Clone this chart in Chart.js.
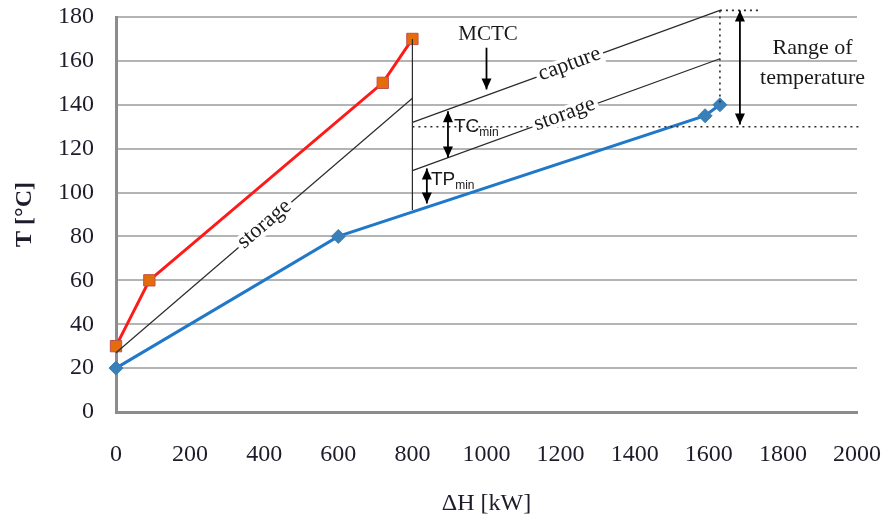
<!DOCTYPE html>
<html>
<head>
<meta charset="utf-8">
<script src="https://cdn.jsdelivr.net/npm/chart.js@4.4.0/dist/chart.umd.min.js"></script>
<style>
  html, body { margin: 0; padding: 0; background: #fff; }
  #wrap { width: 890px; height: 518px; }
</style>
</head>
<body>
<div id="wrap"><canvas id="tc"></canvas></div>
<script>
// hot composite curve (red, squares)
var hotH = [0, 90, 720, 800]
var hotT = [30, 60, 150, 170]
// cold composite curve (blue, diamonds)
var coldH = [0, 600, 1590, 1630]
var coldT = [20, 80, 135, 140]
// storage line under the hot curve
var store1H = [0, 800]
var store1T = [27, 143]
// vertical drop at 800 kW
var dropH = [800, 800]
var dropT = [170, 92]
// MCTC capture and storage lines
var captH = [800, 1630]
var captT = [132, 183]
var store2H = [800, 1630]
var store2T = [110, 161]
// dotted guides
var dotLowH = [800, 2010]
var dotLowT = [130, 130]
var dotTopH = [1630, 1740]
var dotTopT = [183, 183]
var dotVertH = [1630, 1630]
var dotVertT = [183, 140]

var xTicks = [0, 200, 400, 600, 800, 1000, 1200, 1400, 1600, 1800, 2000]
var yTicks = [0, 20, 40, 60, 80, 100, 120, 140, 160, 180]

function pts(xs, ys) {
    return xs.map((v, i) => ({ x: v, y: ys[i] }))
}

function thin(xs, ys, dash) {
    return {
        data: pts(xs, ys),
        showLine: true,
        borderColor: '#2b2b2b',
        borderWidth: dash ? 1.6 : 1.2,
        borderDash: dash ? [2, 4] : [],
        pointRadius: 0,
        clip: false
    }
}

var serif = 'Liberation Serif'

// text and arrows drawn on top, placed in data units through the scales
var notes = {
    id: 'notes',
    afterDatasetsDraw(chart) {
        var ctx = chart.ctx
        var sx = chart.scales.x, sy = chart.scales.y
        var px = v => sx.getPixelForValue(v)
        var py = v => sy.getPixelForValue(v)
        ctx.save()

        function onLine(text, xs, ys, at) {
            var x0 = px(xs[0]), y0 = py(ys[0]), x1 = px(xs[1]), y1 = py(ys[1])
            var t = (at - xs[0]) / (xs[1] - xs[0])
            var cx = x0 + (x1 - x0) * t, cy = y0 + (y1 - y0) * t
            ctx.save()
            ctx.translate(cx, cy)
            ctx.rotate(Math.atan2(y1 - y0, x1 - x0))
            ctx.font = '22px "' + serif + '"'
            var w = ctx.measureText(text).width
            ctx.fillStyle = '#fff'
            ctx.fillRect(-w / 2 - 3, -9, w + 6, 18)
            ctx.fillStyle = '#1a1a1a'
            ctx.textAlign = 'center'
            ctx.textBaseline = 'middle'
            ctx.fillText(text, 0, -1)
            ctx.restore()
        }

        function head(x, y, dir) {
            ctx.beginPath()
            ctx.moveTo(x, y)
            ctx.lineTo(x - 5, y - dir * 11)
            ctx.lineTo(x + 5, y - dir * 11)
            ctx.closePath()
            ctx.fill()
        }

        function arrow(xv, fromT, toT, both) {
            var x = px(xv), ya = py(fromT), yb = py(toT)
            ctx.strokeStyle = '#000'
            ctx.fillStyle = '#000'
            ctx.lineWidth = 1.8
            ctx.beginPath()
            ctx.moveTo(x, ya)
            ctx.lineTo(x, yb)
            ctx.stroke()
            head(x, yb, yb > ya ? 1 : -1)
            if (both) head(x, ya, ya > yb ? 1 : -1)
        }

        onLine('storage', store1H, store1T, 402)
        onLine('capture', captH, captT, 1225)
        onLine('storage', store2H, store2T, 1212)

        arrow(1000, 166, 147, false)
        arrow(1684, 183, 131, true)
        arrow(896, 137, 116, true)
        arrow(839, 111, 95, true)

        ctx.fillStyle = '#1a1a1a'
        ctx.textAlign = 'center'
        ctx.textBaseline = 'middle'
        ctx.font = '21px "' + serif + '"'
        ctx.fillText('MCTC', px(1004), py(172))
        ctx.font = '22px "' + serif + '"'
        ctx.fillText('Range of', px(1880), py(166))
        ctx.fillText('temperature', px(1880), py(152))

        // TCmin / TPmin with subscripts
        function sub(main, low, xv, yv) {
            ctx.textAlign = 'left'
            ctx.font = '19px "Liberation Sans"'
            var x = px(xv), y = py(yv)
            ctx.fillText(main, x, y)
            var w = ctx.measureText(main).width
            ctx.font = '12px "Liberation Sans"'
            ctx.fillText(low, x + w, y + 6)
        }
        sub('TC', 'min', 912, 130)
        sub('TP', 'min', 850, 106)

        ctx.restore()
    }
}

var ctx = document.getElementById('tc').getContext('2d')
var chart = new Chart(ctx, {
    type: 'scatter',
    data: {
        datasets: [
            thin(store1H, store1T),
            thin(dropH, dropT),
            thin(captH, captT),
            thin(store2H, store2T),
            thin(dotLowH, dotLowT, true),
            thin(dotTopH, dotTopT, true),
            thin(dotVertH, dotVertT, true),
            {
                data: pts(hotH, hotT),
                showLine: true,
                borderColor: '#ff1a1a',
                borderWidth: 3,
                pointStyle: 'rect',
                pointRadius: 8,
                pointBackgroundColor: '#e46c0a',
                pointBorderColor: '#c0504d',
                pointBorderWidth: 1,
                clip: false
            },
            {
                data: pts(coldH, coldT),
                showLine: true,
                borderColor: '#1f78c8',
                borderWidth: 3,
                pointStyle: 'rectRot',
                pointRadius: 7,
                pointBackgroundColor: '#3a80b8',
                pointBorderColor: '#3a80b8',
                pointBorderWidth: 1,
                clip: false
            }
        ]
    },
    options: {
        responsive: true,
        maintainAspectRatio: false,
        animation: false,
        layout: { padding: { left: 0, right: 33, top: 17, bottom: 0 } },
        plugins: {
            legend: { display: false },
            tooltip: { enabled: false }
        },
        scales: {
            x: {
                type: 'linear',
                min: 0,
                max: 2000,
                afterBuildTicks: s => { s.ticks = xTicks.map(v => ({ value: v })) },
                afterFit: s => {
                    s.height = 106
                    s.paddingLeft = 0
                    s.paddingRight = 0
                },
                grid: { display: false },
                border: { display: true, color: '#8c8c8c', width: 3 },
                ticks: {
                    color: '#1c1c2a',
                    padding: 20,
                    maxRotation: 0,
                    callback: v => String(v),
                    font: { family: serif, size: 24 }
                },
                title: {
                    display: true,
                    text: 'ΔH [kW]',
                    color: '#1c1c2a',
                    padding: { top: 18, bottom: 0 },
                    font: { family: serif, size: 24 }
                }
            },
            y: {
                type: 'linear',
                min: 0,
                max: 180,
                afterBuildTicks: s => { s.ticks = yTicks.map(v => ({ value: v })) },
                afterFit: s => {
                    s.width = 116
                    s.paddingTop = 0
                    s.paddingBottom = 0
                },
                grid: { color: '#b4b4b4', lineWidth: 2, drawTicks: false },
                border: { display: true, color: '#8c8c8c', width: 3 },
                ticks: {
                    color: '#1c1c2a',
                    padding: 22,
                    callback: v => String(v),
                    font: { family: serif, size: 24 }
                },
                title: {
                    display: true,
                    text: 'T [°C]',
                    color: '#1c1c2a',
                    padding: { top: 10 },
                    font: { family: serif, size: 24, weight: 'bold' }
                }
            }
        }
    },
    plugins: [notes]
})
</script>
</body>
</html>
